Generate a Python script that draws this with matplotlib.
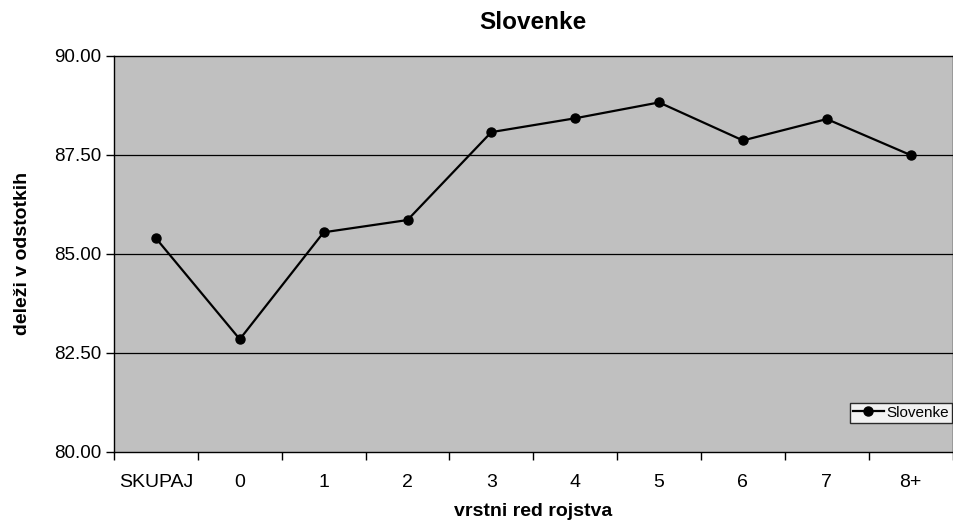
import matplotlib
matplotlib.use('Agg')
import matplotlib.pyplot as plt
import numpy as np

plt.rcParams['font.family'] = ['Liberation Sans', 'DejaVu Sans']

# data
categories = ['SKUPAJ', '0', '1', '2', '3', '4', '5', '6', '7', '8+']
slovenke = [85.39, 82.84, 85.54, 85.85, 88.07, 88.42, 88.82, 87.86, 88.40, 87.49]
y_ticks = [80.0, 82.5, 85.0, 87.5, 90.0]

fig = plt.figure(figsize=(9.54, 5.22), dpi=100)
ax = fig.add_axes([0.1195, 0.1347, 0.879, 0.7586])
ax.set_facecolor('#c0c0c0')

x = np.arange(len(categories))
ax.plot(x, slovenke, color='black', lw=1.6, marker='o', ms=6.5,
        label='Slovenke', zorder=3)

ax.set_xlim(-0.5, len(categories) - 0.5)
ax.set_ylim(80, 90)
ax.set_yticks(y_ticks)
ax.set_yticklabels([f'{v:.2f}' for v in y_ticks])
for v in y_ticks[1:-1]:
    ax.axhline(v, color='black', lw=0.9, zorder=1)

# category labels in the middle, ticks between categories
ax.set_xticks(np.arange(-0.5, len(categories)), minor=False)
ax.set_xticklabels([])
ax.set_xticks(x, minor=True)
ax.set_xticklabels(categories, minor=True)
ax.tick_params(axis='x', which='major', length=6, width=1, direction='out')
ax.tick_params(axis='x', which='minor', length=0, pad=16, labelsize=14)
ax.tick_params(axis='y', length=6, width=1, direction='out', labelsize=13.5, pad=3)

for s in ax.spines.values():
    s.set_color('black')
    s.set_linewidth(1)

ax.set_title('Slovenke', fontsize=17.5, fontweight='bold', pad=19)
ax.set_xlabel('vrstni red rojstva', fontsize=14, fontweight='bold', labelpad=9)
ax.set_ylabel('deleži v odstotkih', fontsize=14, fontweight='bold', labelpad=17)

leg = ax.legend(loc='lower right', bbox_to_anchor=(0.9988, 0.0732), fontsize=11,
                frameon=True, fancybox=False, borderpad=0.2, handlelength=2.0,
                handletextpad=0.15, borderaxespad=0)
leg.get_frame().set_edgecolor('black')
leg.get_frame().set_facecolor('white')
leg.get_frame().set_linewidth(1)

fig.savefig('out.png', dpi=100)
